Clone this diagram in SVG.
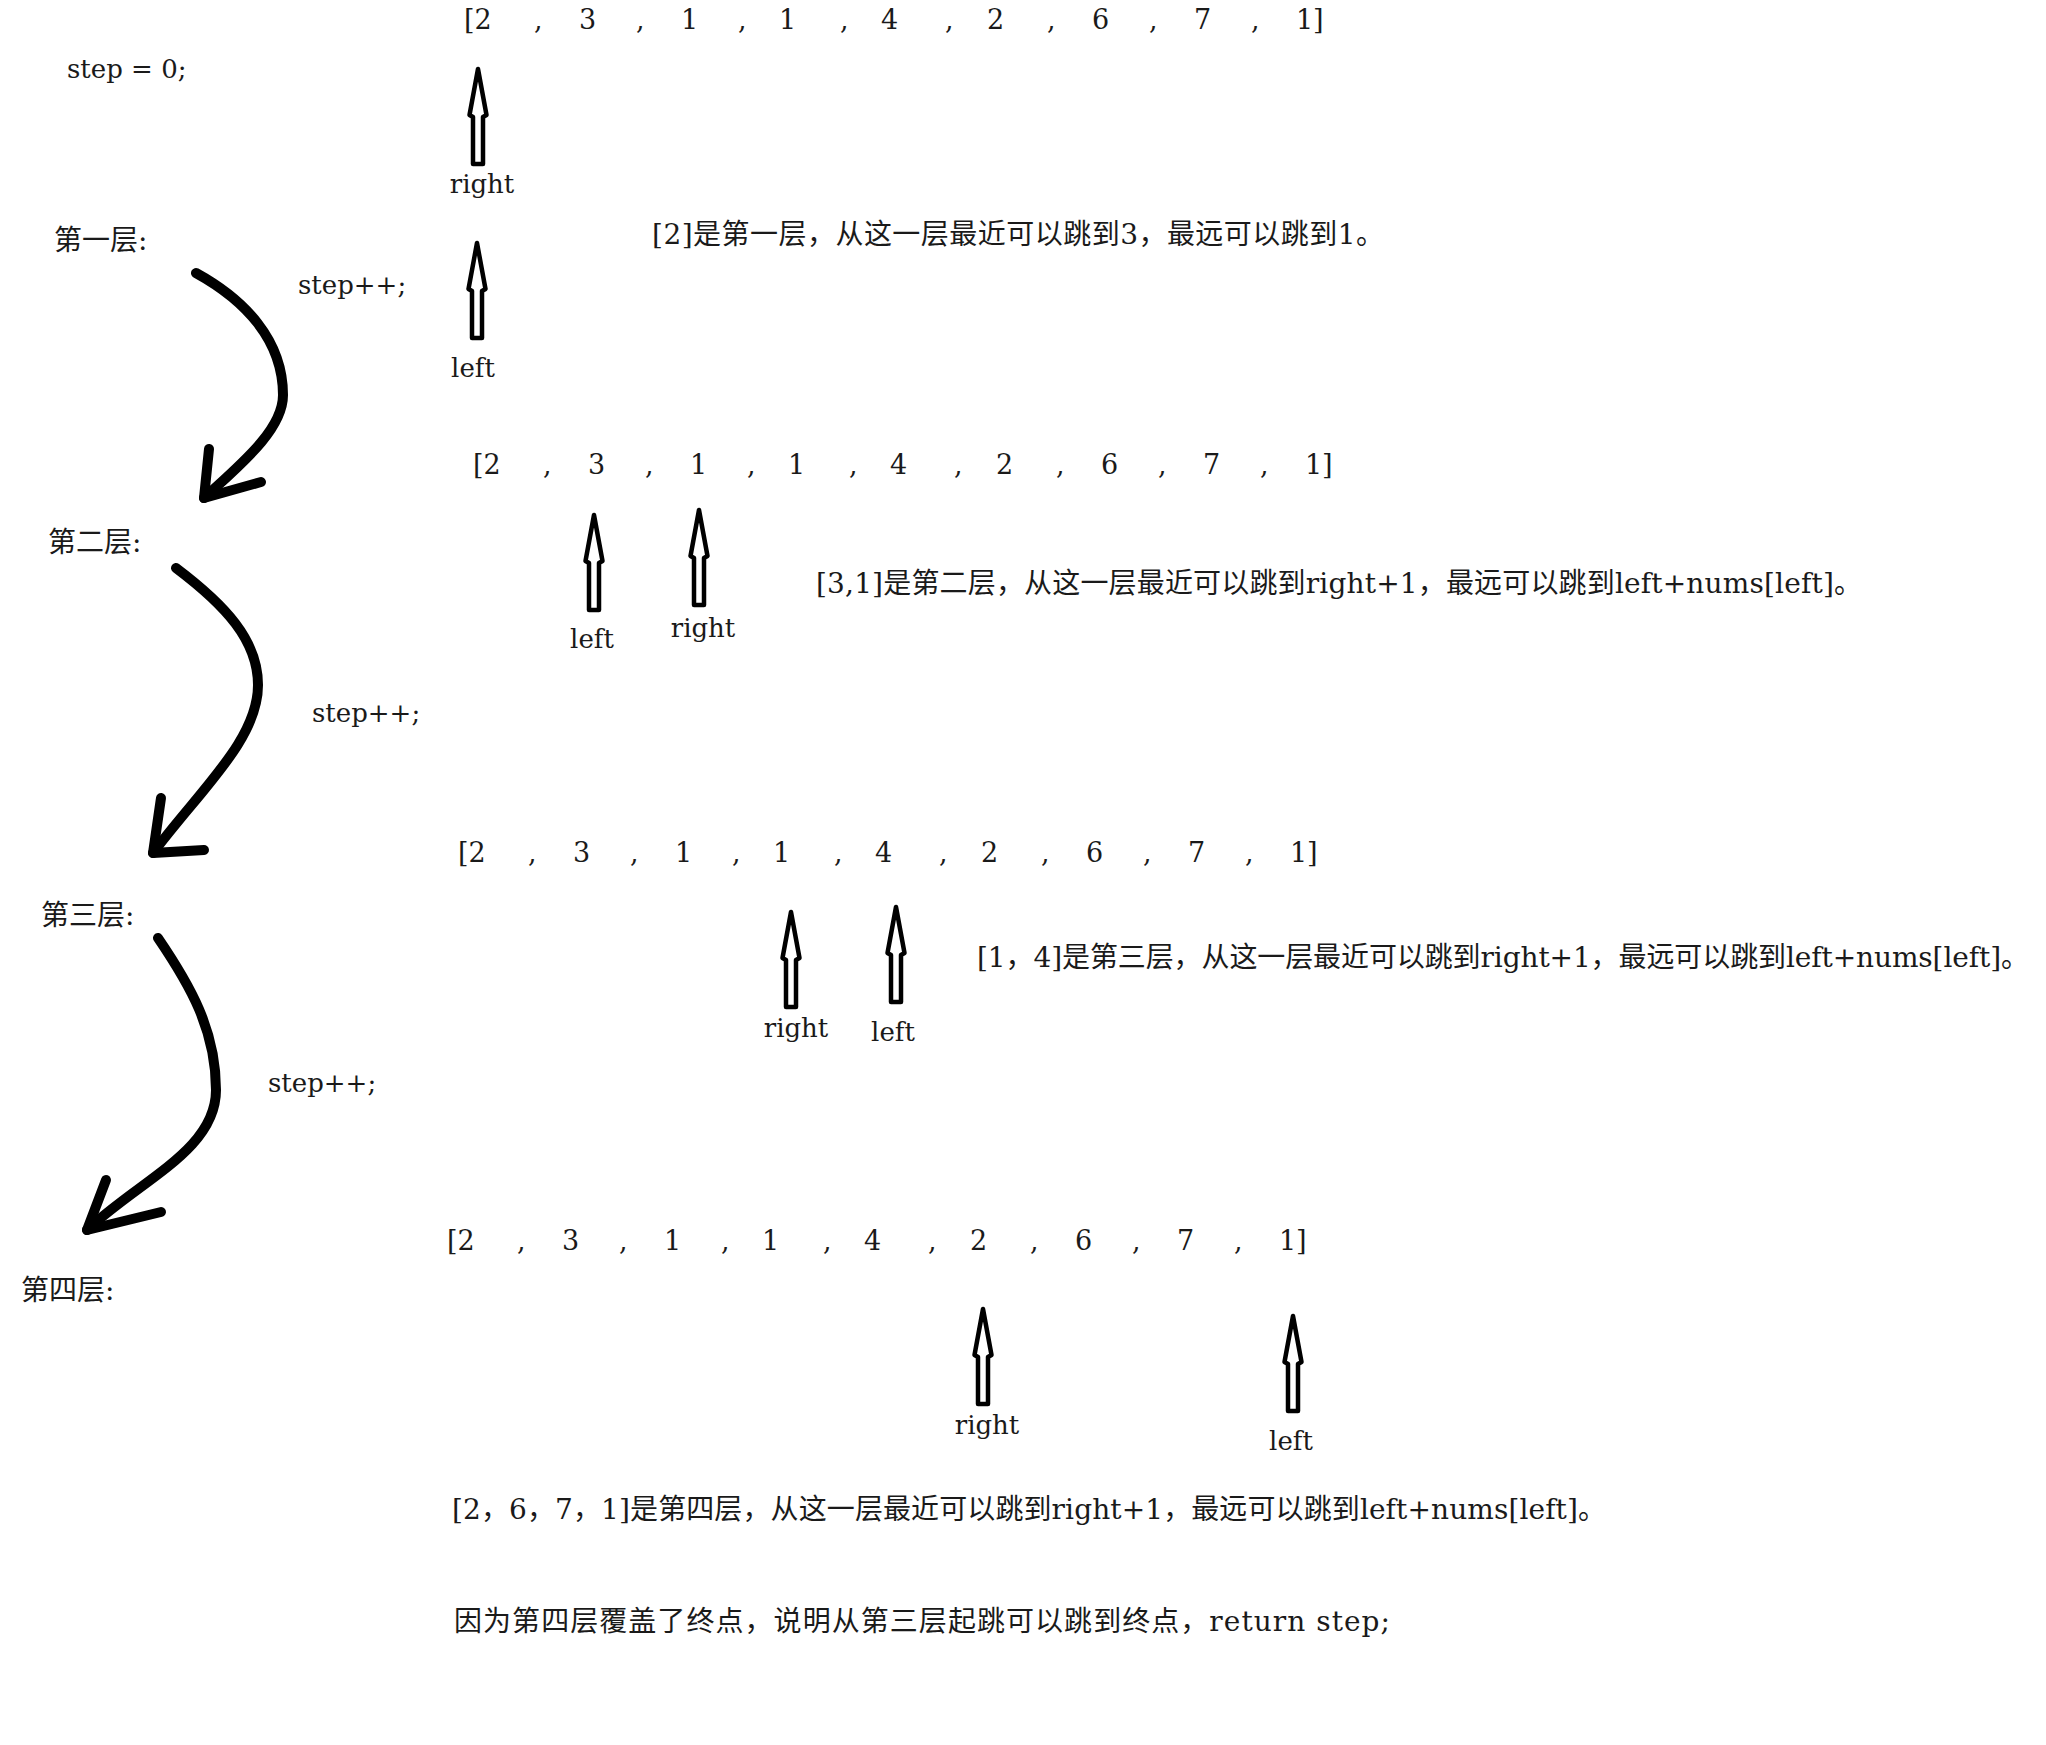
<svg xmlns="http://www.w3.org/2000/svg" xmlns:xlink="http://www.w3.org/1999/xlink" width="2046" height="1745" viewBox="0 0 2046 1745">
<style>
  .t { font-family: "DejaVu Serif", "Noto Sans CJK SC", serif; font-size: 26px; fill: #1a1a1a; }
  .arr { font-family: "DejaVu Serif", serif; font-size: 27px; fill: #1a1a1a; }
  .cjk { font-family: "DejaVu Serif", "Noto Sans CJK SC", serif; font-size: 28px; fill: #1a1a1a; }
  .ptr { fill: #ffffff; stroke: #000000; stroke-width: 4.5; stroke-linejoin: round; }
  .curve { fill: none; stroke: #000000; stroke-width: 10; stroke-linecap: round; stroke-linejoin: round; }
</style>
<defs>
  <path id="up" class="ptr" d="M0,0 L8.5,46 L5,48 L5,95 L-5,95 L-5,48 L-8.5,46 Z"/>
</defs>
<rect width="2046" height="1745" fill="#ffffff"/>

<g id="step0"><text class="t" x="67" y="78">step = 0;</text></g>

<g id="layer1">
  <text class="cjk" x="54" y="250">第一层:</text>
  <text class="arr" x="464 474.5 534 579 636 681 738 779 840 881 945 987 1047 1092 1149 1194 1251 1296 1313" y="29">[2,3,1,1,4,2,6,7,1]</text>
  <use xlink:href="#up" x="478" y="69"/>
  <text class="t" x="482" y="193" text-anchor="middle">right</text>
  <use xlink:href="#up" x="477" y="243"/>
  <text class="t" x="473" y="377" text-anchor="middle">left</text>
  <text class="cjk" x="652" y="244" textLength="732" lengthAdjust="spacing">[2]是第一层，从这一层最近可以跳到3，最远可以跳到1。</text>
  <text class="t" x="298" y="294">step++;</text>
</g>

<g id="layer2">
  <text class="cjk" x="48" y="552">第二层:</text>
  <text class="arr" x="473 483.5 543 588 645 690 747 788 849 890 954 996 1056 1101 1158 1203 1260 1305 1322" y="474">[2,3,1,1,4,2,6,7,1]</text>
  <use xlink:href="#up" x="594" y="515"/>
  <text class="t" x="592" y="648" text-anchor="middle">left</text>
  <use xlink:href="#up" x="699" y="510"/>
  <text class="t" x="703" y="637" text-anchor="middle">right</text>
  <text class="cjk" x="816" y="593" textLength="1046" lengthAdjust="spacing">[3,1]是第二层，从这一层最近可以跳到right+1，最远可以跳到left+nums[left]。</text>
  <text class="t" x="312" y="722">step++;</text>
</g>

<g id="layer3">
  <text class="cjk" x="41" y="925">第三层:</text>
  <text class="arr" x="458 468.5 528 573 630 675 732 773 834 875 939 981 1041 1086 1143 1188 1245 1290 1307" y="862">[2,3,1,1,4,2,6,7,1]</text>
  <use xlink:href="#up" x="791" y="912"/>
  <text class="t" x="796" y="1037" text-anchor="middle">right</text>
  <use xlink:href="#up" x="896" y="907"/>
  <text class="t" x="893" y="1041" text-anchor="middle">left</text>
  <text class="cjk" x="977" y="967" textLength="1052" lengthAdjust="spacing">[1，4]是第三层，从这一层最近可以跳到right+1，最远可以跳到left+nums[left]。</text>
  <text class="t" x="268" y="1092">step++;</text>
</g>

<g id="layer4">
  <text class="cjk" x="21" y="1300">第四层:</text>
  <text class="arr" x="447 457.5 517 562 619 664 721 762 823 864 928 970 1030 1075 1132 1177 1234 1279 1296" y="1250">[2,3,1,1,4,2,6,7,1]</text>
  <use xlink:href="#up" x="983" y="1309"/>
  <text class="t" x="987" y="1434" text-anchor="middle">right</text>
  <use xlink:href="#up" x="1293" y="1316"/>
  <text class="t" x="1291" y="1450" text-anchor="middle">left</text>
  <text class="cjk" x="452" y="1519" textLength="1154" lengthAdjust="spacing">[2，6，7，1]是第四层，从这一层最近可以跳到right+1，最远可以跳到left+nums[left]。</text>
</g>

<g id="conclusion">
  <text class="cjk" x="454" y="1631" textLength="936" lengthAdjust="spacing">因为第四层覆盖了终点，说明从第三层起跳可以跳到终点，return step;</text>
</g>

<g id="connectors">
  <path class="curve" d="M196,273 C245,300 283,340 283,395 C283,430 240,465 204,498"/>
  <path class="curve" d="M209,449 L204,498 L261,482"/>
  <path class="curve" d="M176,568 C225,605 258,640 258,685 C258,740 200,790 153,853"/>
  <path class="curve" d="M161,798 L153,853 L204,850"/>
  <path class="curve" d="M158,938 C190,985 216,1030 216,1090 C216,1150 140,1180 87,1230"/>
  <path class="curve" d="M106,1180 L87,1230 L161,1212"/>
</g>
</svg>
